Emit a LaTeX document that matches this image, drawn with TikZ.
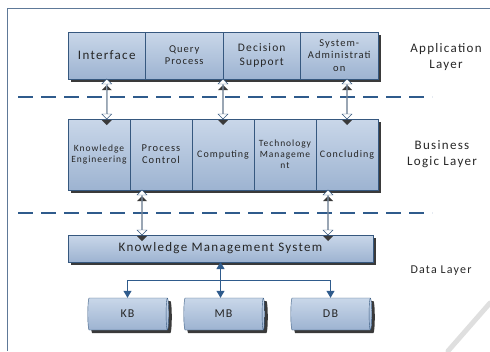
\documentclass[tikz,border=0pt]{standalone}
\usepackage{fontspec}
\setmainfont{Carlito}[LetterSpace=10]
\usetikzlibrary{positioning,calc,shapes.geometric,shapes.arrows,shadows,arrows.meta}

\definecolor{boxline}{HTML}{36587F}
\definecolor{boxtop}{HTML}{C9D7E9}
\definecolor{boxbot}{HTML}{9DB3D1}
\definecolor{dashblue}{HTML}{2F5B8C}
\definecolor{shade}{HTML}{3A3A3A}

\begin{document}
\begin{tikzpicture}[x=1pt,y=-1pt]
    \tikzset{cell/.style = {draw=boxline, top color=boxtop, bottom color=boxbot, outer sep=0pt, inner sep=1pt, align=center, text=black!85,
                 drop shadow={shadow xshift=3pt, shadow yshift=-3pt, fill=shade, opacity=1}},
             top cell/.style = {cell, minimum width=77.5, minimum height=47},
             mid cell/.style = {cell, minimum width=62, minimum height=71},
             can/.style = {cylinder, draw=boxline, top color=boxtop, bottom color=boxbot, aspect=0.35, minimum width=32, minimum height=81,
                 inner sep=0pt, text=black!85, font=\fontsize{12}{13}\selectfont,
                 drop shadow={shadow xshift=3pt, shadow yshift=-3pt, fill=shade, opacity=1}},
             % rotated by 90: the shadow's y shift points to the right
             darrow/.style = {double arrow, draw=boxline, fill=white, rotate=90, inner sep=0pt, minimum width=10, minimum height=40,
                 double arrow head extend=2pt, double arrow head indent=0pt,
                 drop shadow={shadow xshift=0pt, shadow yshift=-6pt, fill=shade, opacity=1}},
             layer/.style = {align=center, text=black!85, font=\fontsize{13}{16}\selectfont},
             link/.style = {draw=dashblue, line width=1pt},
             sep line/.style = {dashblue, line width=1.5pt, dash pattern=on 15pt off 8pt}}
    \useasboundingbox (0,0) rectangle (490,351);
    % frame and page corner
    \draw[boxline!80, line width=0.8pt] (490,8) -| (7,351);
    \draw[gray!25, line width=5pt, line cap=round] (448,351) -- (490,303);
    % layer separators
    \draw[sep line] (18,97) -- (432,97);
    \draw[sep line] (18,213) -- (432,213);
    %% application layer
    \node[top cell, font=\fontsize{13}{14}\selectfont] (interface) at (106.75,55.5) {Interface};
    \node[top cell, font=\fontsize{10.5}{12}\selectfont] (query) [right = 0pt of interface] {Query\\Process};
    \node[top cell, font=\fontsize{11.5}{13.5}\selectfont] (decision) [right = 0pt of query] {Decision\\Support};
    \node[top cell, font=\fontsize{10.5}{12.5}\selectfont] (sysadm) [right = 0pt of decision] {System-\\Administrati\\on};
    \node[layer] (applayer) at (446,57) {Application\\Layer};
    %% business logic layer
    \node[mid cell, font=\fontsize{9.5}{11.5}\selectfont] (ke) at (99,154.5) {Knowledge\\Engineering};
    \node[mid cell, font=\fontsize{10.5}{12}\selectfont] (pc) [right = 0pt of ke] {Process\\Control};
    \node[mid cell, font=\fontsize{10}{11}\selectfont] (comp) [right = 0pt of pc] {Computing};
    \node[mid cell, font=\fontsize{9.5}{11}\selectfont] (tm) [right = 0pt of comp] {Technology\\Manageme\\nt};
    \node[mid cell, font=\fontsize{10}{11}\selectfont] (concl) [right = 0pt of tm] {Concluding};
    \node[layer] (bizlayer) at (442,154) {Business\\Logic Layer};
    %% data layer
    \node[cell, minimum width=305, minimum height=27, font=\fontsize{13}{14}\selectfont] (kms) at (220.5,248.5) {Knowledge Management System};
    \node[can] (kb) at (127.5,314) {KB};
    \node[can] (mb) at (223.5,314) {MB};
    \node[can] (db) at (330.5,314) {DB};
    \node[layer, font=\fontsize{12}{14}\selectfont] (datalayer) at (441,271) {Data Layer};
    % double arrows between layers
    \node[darrow] (a1) at ($(interface.south)!0.5!(interface.south |- ke.north)$) {};
    \node[darrow] (a2) at ($(query.south east)!0.5!(query.south east |- comp.north)$) {};
    \node[darrow] (a3) at ($(concl.north)!0.5!(concl.north |- sysadm.south)$) {};
    \node[darrow, minimum height=45] (a4) at ($(pc.south west)!0.5!(pc.south west |- kms.north) + (12,0)$) {};
    \node[darrow, minimum height=45] (a5) at ($(concl.south west)!0.5!(concl.south west |- kms.north) + (12,0)$) {};
    % links to the stores
    \coordinate (hub) at ($(kms.south)+(0,18)$);
    \draw[link, {Triangle[width=8pt,length=7pt]}-{Triangle[width=8pt,length=7pt]}] (kms.south) -- (kms.south |- mb.north);
    \draw[link, -{Triangle[width=8pt,length=7pt]}] (hub) -| (kb.north);
    \draw[link, -{Triangle[width=8pt,length=7pt]}] (hub) -| (db.north);
\end{tikzpicture}
\end{document}
